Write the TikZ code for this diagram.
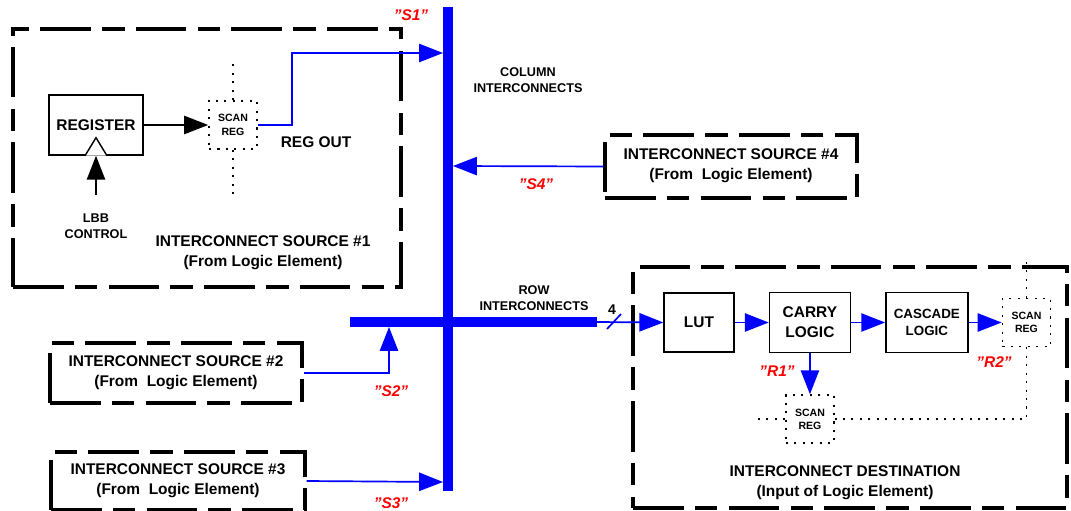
\documentclass[tikz,border=0pt]{standalone}
\usepackage{fontspec}
\setmainfont{Liberation Sans}
\usetikzlibrary{arrows.meta,calc,fit,positioning}
\definecolor{busblue}{RGB}{0,0,255}
\definecolor{tagred}{RGB}{255,0,0}
\newcommand{\dq}{\symbol{34}}

\begin{document}
\begin{tikzpicture}[
      x=0.025cm, y=-0.025cm,
      font=\bfseries,
      >={Triangle[length=17pt,width=13pt]},
      frame/.style={draw, line width=2.4pt, dash pattern=on 36pt off 8pt on 16pt off 8pt, inner sep=0pt},
      block/.style={draw, line width=1pt, align=center, font=\bfseries\fontsize{11}{14}\selectfont},
      scanreg/.style={draw, line width=1.2pt, dash pattern=on 1.5pt off 4.5pt, minimum size=12mm, inner sep=0pt, align=center, font=\bfseries\fontsize{7.5}{9.5}\selectfont},
      dots/.style={line width=1.2pt, dash pattern=on 1.5pt off 4.5pt},
      sig/.style={draw=busblue, line width=1.2pt},
      bus/.style={draw=busblue, line width=7.3pt},
      tag/.style={text=tagred, font=\bfseries\itshape\fontsize{11}{13}\selectfont},
      txt/.style={align=center, font=\bfseries\fontsize{11}{14}\selectfont},
      small/.style={align=center, font=\bfseries\fontsize{9}{11.5}\selectfont},
]
\useasboundingbox (0,0) rectangle (1071,511);

% busses
\coordinate (colT) at (448,7);
\coordinate (colB) at (448,491);
\coordinate (rowL) at (350,322);
\coordinate (rowR) at (597,322);
\draw[bus] (colT) -- (colB);
\draw[bus] (rowL) -- (rowR);
\node[small] (colname) at (528,80) {COLUMN\\INTERCONNECTS};
\node[small] (rowname) at (534,298) {ROW\\INTERCONNECTS};

% source #1
\node[frame, fit={(13,29) (401,287)}] (src1) {};
\node[txt] (src1txt) at (263,253) {INTERCONNECT SOURCE \#1\\(From Logic Element)};
\node[block, minimum width=23.5mm, minimum height=15mm] (reg) at (96,125) {REGISTER};
\draw[line width=1pt, fill=white] ($(reg.south)+(-11,0)$) -- ($(reg.south)+(0,-18)$) -- ($(reg.south)+(11,0)$);
\node[small, font=\bfseries\fontsize{9}{11}\selectfont] (lbb) at (96,226) {LBB\\CONTROL};
\coordinate (lbbtop) at (96,195);
\draw[line width=1pt, ->] (lbbtop) -- (reg.south);
\node[scanreg] (scan1) at (233,125) {SCAN\\REG};
\draw[dots] (scan1.north) -- ++(0,-36);
\draw[dots] (scan1.south) -- ++(0,46);
\draw[line width=1pt, ->] (reg.east) -- (scan1.west);
\node[txt] (regout) at (316,142) {REG OUT};
\coordinate (s1in) at (443,53);
\draw[sig, ->] (scan1.east) -- ++(34,0) |- (s1in);
\node[tag] (s1) at (411,15) {\dq S1\dq};

% source #4
\node[frame, fit={(605,135) (857,198)}] (src4) {};
\node[txt] (src4txt) at (731,166) {INTERCONNECT SOURCE \#4\\(From~~Logic Element)};
\coordinate (s4in) at (453,166);
\draw[sig, ->] (src4.west) -- (s4in);
\node[tag] (s4) at (536,184) {\dq S4\dq};

% source #2
\node[frame, fit={(50,343) (302,403)}] (src2) {};
\node[txt] (src2txt) at (176,373) {INTERCONNECT SOURCE \#2\\(From~~Logic Element)};
\coordinate (s2in) at (389,327);
\draw[sig, ->] (src2.east) -| (s2in);
\node[tag] (s2) at (391,391) {\dq S2\dq};

% source #3
\node[frame, fit={(51,452) (305,510)}] (src3) {};
\node[txt] (src3txt) at (178,481) {INTERCONNECT SOURCE \#3\\(From~~Logic Element)};
\coordinate (s3in) at (443,482);
\draw[sig, ->] (src3.east) -- (s3in);
\node[tag] (s3) at (391,503) {\dq S3\dq};

% destination
\node[frame, fit={(633,267) (1067,508)}] (dest) {};
\node[txt] (desttxt) at (845,483) {INTERCONNECT DESTINATION\\(Input of Logic Element)};
\node[block, minimum width=17.5mm, minimum height=14.75mm] (lut) at (699,322.5) {LUT};
\node[block, minimum width=20.25mm, minimum height=15mm, right=8.5mm of lut] (carry) {CARRY\\LOGIC};
\node[block, minimum width=20.5mm, minimum height=15mm, right=8.5mm of carry, font=\bfseries\fontsize{9.5}{12}\selectfont] (cascade) {CASCADE\\LOGIC};
\node[scanreg, right=8.25mm of cascade] (scan2) {SCAN\\REG};
\node[scanreg, below=10.25mm of carry] (scan3) {SCAN\\REG};

\draw[sig, ->] (rowR) -- (lut.west);
\draw[sig] (607,329) -- (621,314);
\node[font=\bfseries\fontsize{10}{12}\selectfont] (width) at (612,310) {4};
\draw[sig, ->] (lut.east) -- (carry.west);
\draw[sig, ->] (carry.east) -- (cascade.west);
\draw[sig, ->] (cascade.east) -- (scan2.west);
\draw[sig, ->] (carry.south) -- (scan3.north);
\draw[dots] (scan2.north) -- ++(0,-36);
\draw[dots] (scan2.south) |- (scan3.east);
\draw[dots] (scan3.west) -- ++(-29,0);
\node[tag] (r1) at (777,371) {\dq R1\dq};
\node[tag] (r2) at (994,362) {\dq R2\dq};

\end{tikzpicture}
\end{document}
